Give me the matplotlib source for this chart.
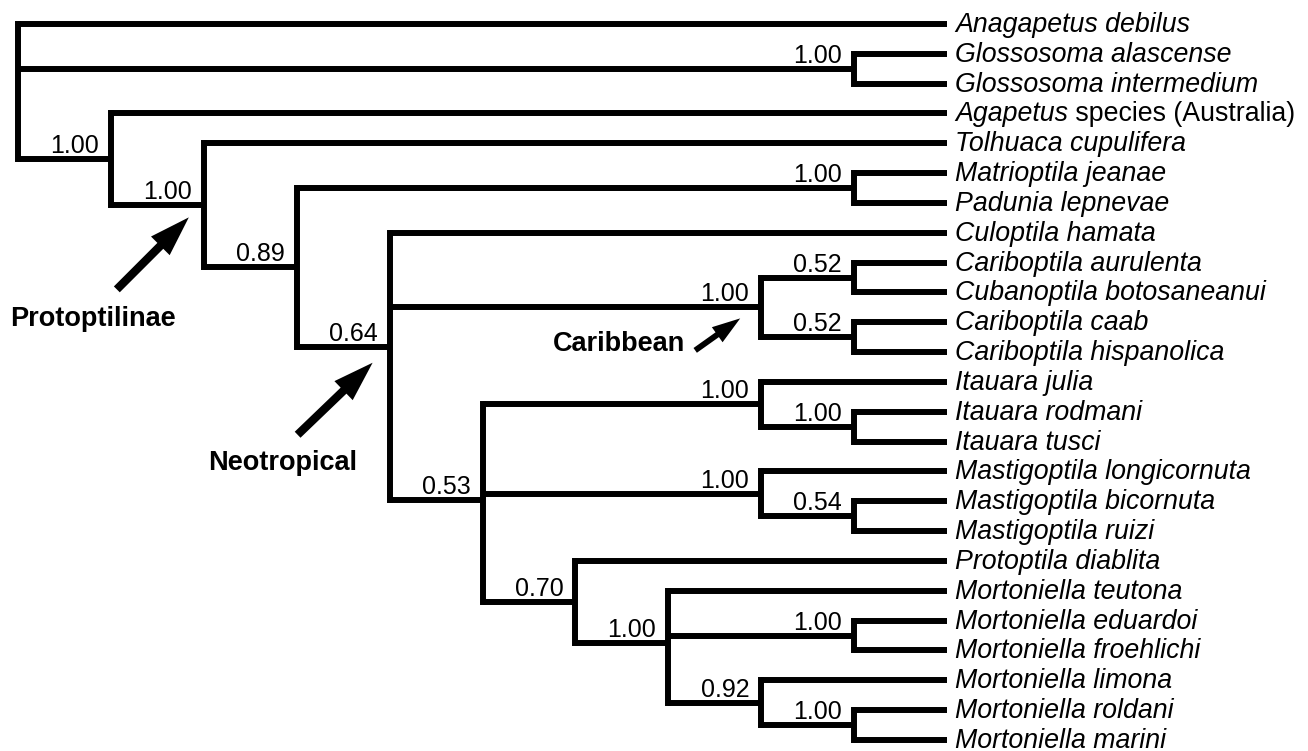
import matplotlib.pyplot as plt
from matplotlib.transforms import offset_copy

plt.rcParams['font.family'] = ['Liberation Sans', 'DejaVu Sans']

# tip names, top to bottom
taxa = [
    "Anagapetus debilus", "Glossosoma alascense", "Glossosoma intermedium",
    "Agapetus", "Tolhuaca cupulifera", "Matrioptila jeanae", "Padunia lepnevae",
    "Culoptila hamata", "Cariboptila aurulenta", "Cubanoptila botosaneanui",
    "Cariboptila caab", "Cariboptila hispanolica", "Itauara julia",
    "Itauara rodmani", "Itauara tusci", "Mastigoptila longicornuta",
    "Mastigoptila bicornuta", "Mastigoptila ruizi", "Protoptila diablita",
    "Mortoniella teutona", "Mortoniella eduardoi", "Mortoniella froehlichi",
    "Mortoniella limona", "Mortoniella roldani", "Mortoniella marini",
]
# upright text after the italic genus name
tip_suffix = {3: " species (Australia)"}

# topology, tips given by index into taxa
tree = [0, [1, 2],
        [3, [4, [[5, 6],
                 [7, [[8, 9], [10, 11]],
                  [[12, [13, 14]], [15, [16, 17]],
                   [18, [19, [20, 21], [22, [23, 24]]]]]]]]]]

# posterior values, internal nodes in preorder (root skipped)
support = ["1.00", "1.00", "1.00", "0.89", "1.00", "0.64", "1.00", "0.52",
           "0.52", "0.53", "1.00", "1.00", "1.00", "0.54", "0.70", "1.00",
           "1.00", "0.92", "1.00"]

# labelled clades -> preorder index of their node (root = 0)
clade_names = ["Protoptilinae", "Neotropical", "Caribbean"]
clade_nodes = [3, 6, 7]


def height(n):
    if isinstance(n, int):
        return 0
    return 1 + max(height(c) for c in n)


depth = height(tree)
nodes = []      # (x, y) of internal nodes, preorder
hlines = []     # (y, x0, x1)
vlines = []     # (x, y0, y1)


def layout(n):
    if isinstance(n, int):
        return depth, n
    nodes.append(None)
    k = len(nodes) - 1
    x = depth - height(n)
    pts = [layout(c) for c in n]
    y = sum(p[1] for p in pts) / len(pts)
    for cx, cy in pts:
        hlines.append((cy, x, cx))
    vlines.append((x, min(p[1] for p in pts), max(p[1] for p in pts)))
    nodes[k] = (x, y)
    return x, y


layout(tree)

fig = plt.figure(figsize=(13.08, 7.51), dpi=100)
ax = fig.add_axes([0, 0, 1, 1])
ax.set_xlim(-0.194, 13.886)
ax.set_ylim(24.372, -0.805)
ax.axis('off')

lw = 4.3
for y, x0, x1 in hlines:
    ax.plot([x0, x1], [y, y], color='black', lw=lw, solid_capstyle='butt')
for x, y0, y1 in vlines:
    ax.plot([x, x], [y0, y1], color='black', lw=lw, solid_capstyle='projecting')

# tip labels
for i, name in enumerate(taxa):
    t = ax.annotate(name, (depth, i), xytext=(8, -8), textcoords='offset pixels',
                    ha='left', va='baseline', fontsize=19.3, style='italic')
    if i in tip_suffix:
        ax.annotate(tip_suffix[i], (1, 0), xycoords=t, ha='left', va='bottom',
                    fontsize=19.3)

# support values on the stem of each clade
for (x, y), s in zip(nodes[1:], support):
    ax.annotate(s, (x, y), xytext=(-12, 6), textcoords='offset pixels',
                ha='right', va='baseline', fontsize=18)

# clade arrows: pixel offsets from the node (tip, tail, text), arrow scale
arrow_geom = {
    "Protoptilinae": ((-15, -12), (-87, -84), (-194, -121), 20),
    "Neotropical": ((-17, -16), (-92, -88), (-181, -123), 20),
    "Caribbean": ((-21, -11), (-66, -43), (-208, -44), 14),
}
for name, k in zip(clade_names, clade_nodes):
    nx, ny = nodes[k]
    tip, tail, txt, ms = arrow_geom[name]
    tr = offset_copy(ax.transData, fig=fig, x=tip[0], y=tip[1], units='dots')
    ax.annotate('', (nx, ny), xycoords=tr,
                xytext=(tail[0] - tip[0], tail[1] - tip[1]), textcoords='offset pixels',
                arrowprops=dict(arrowstyle='simple,head_length=1.45,head_width=0.95,tail_width=0.3',
                                fc='black', ec='black', lw=0, shrinkA=0, shrinkB=0,
                                mutation_scale=ms))
    ax.annotate(name, (nx, ny), xytext=txt, textcoords='offset pixels',
                ha='left', va='baseline', fontsize=19.5, weight='bold')

fig.savefig('out.png', dpi=100)
